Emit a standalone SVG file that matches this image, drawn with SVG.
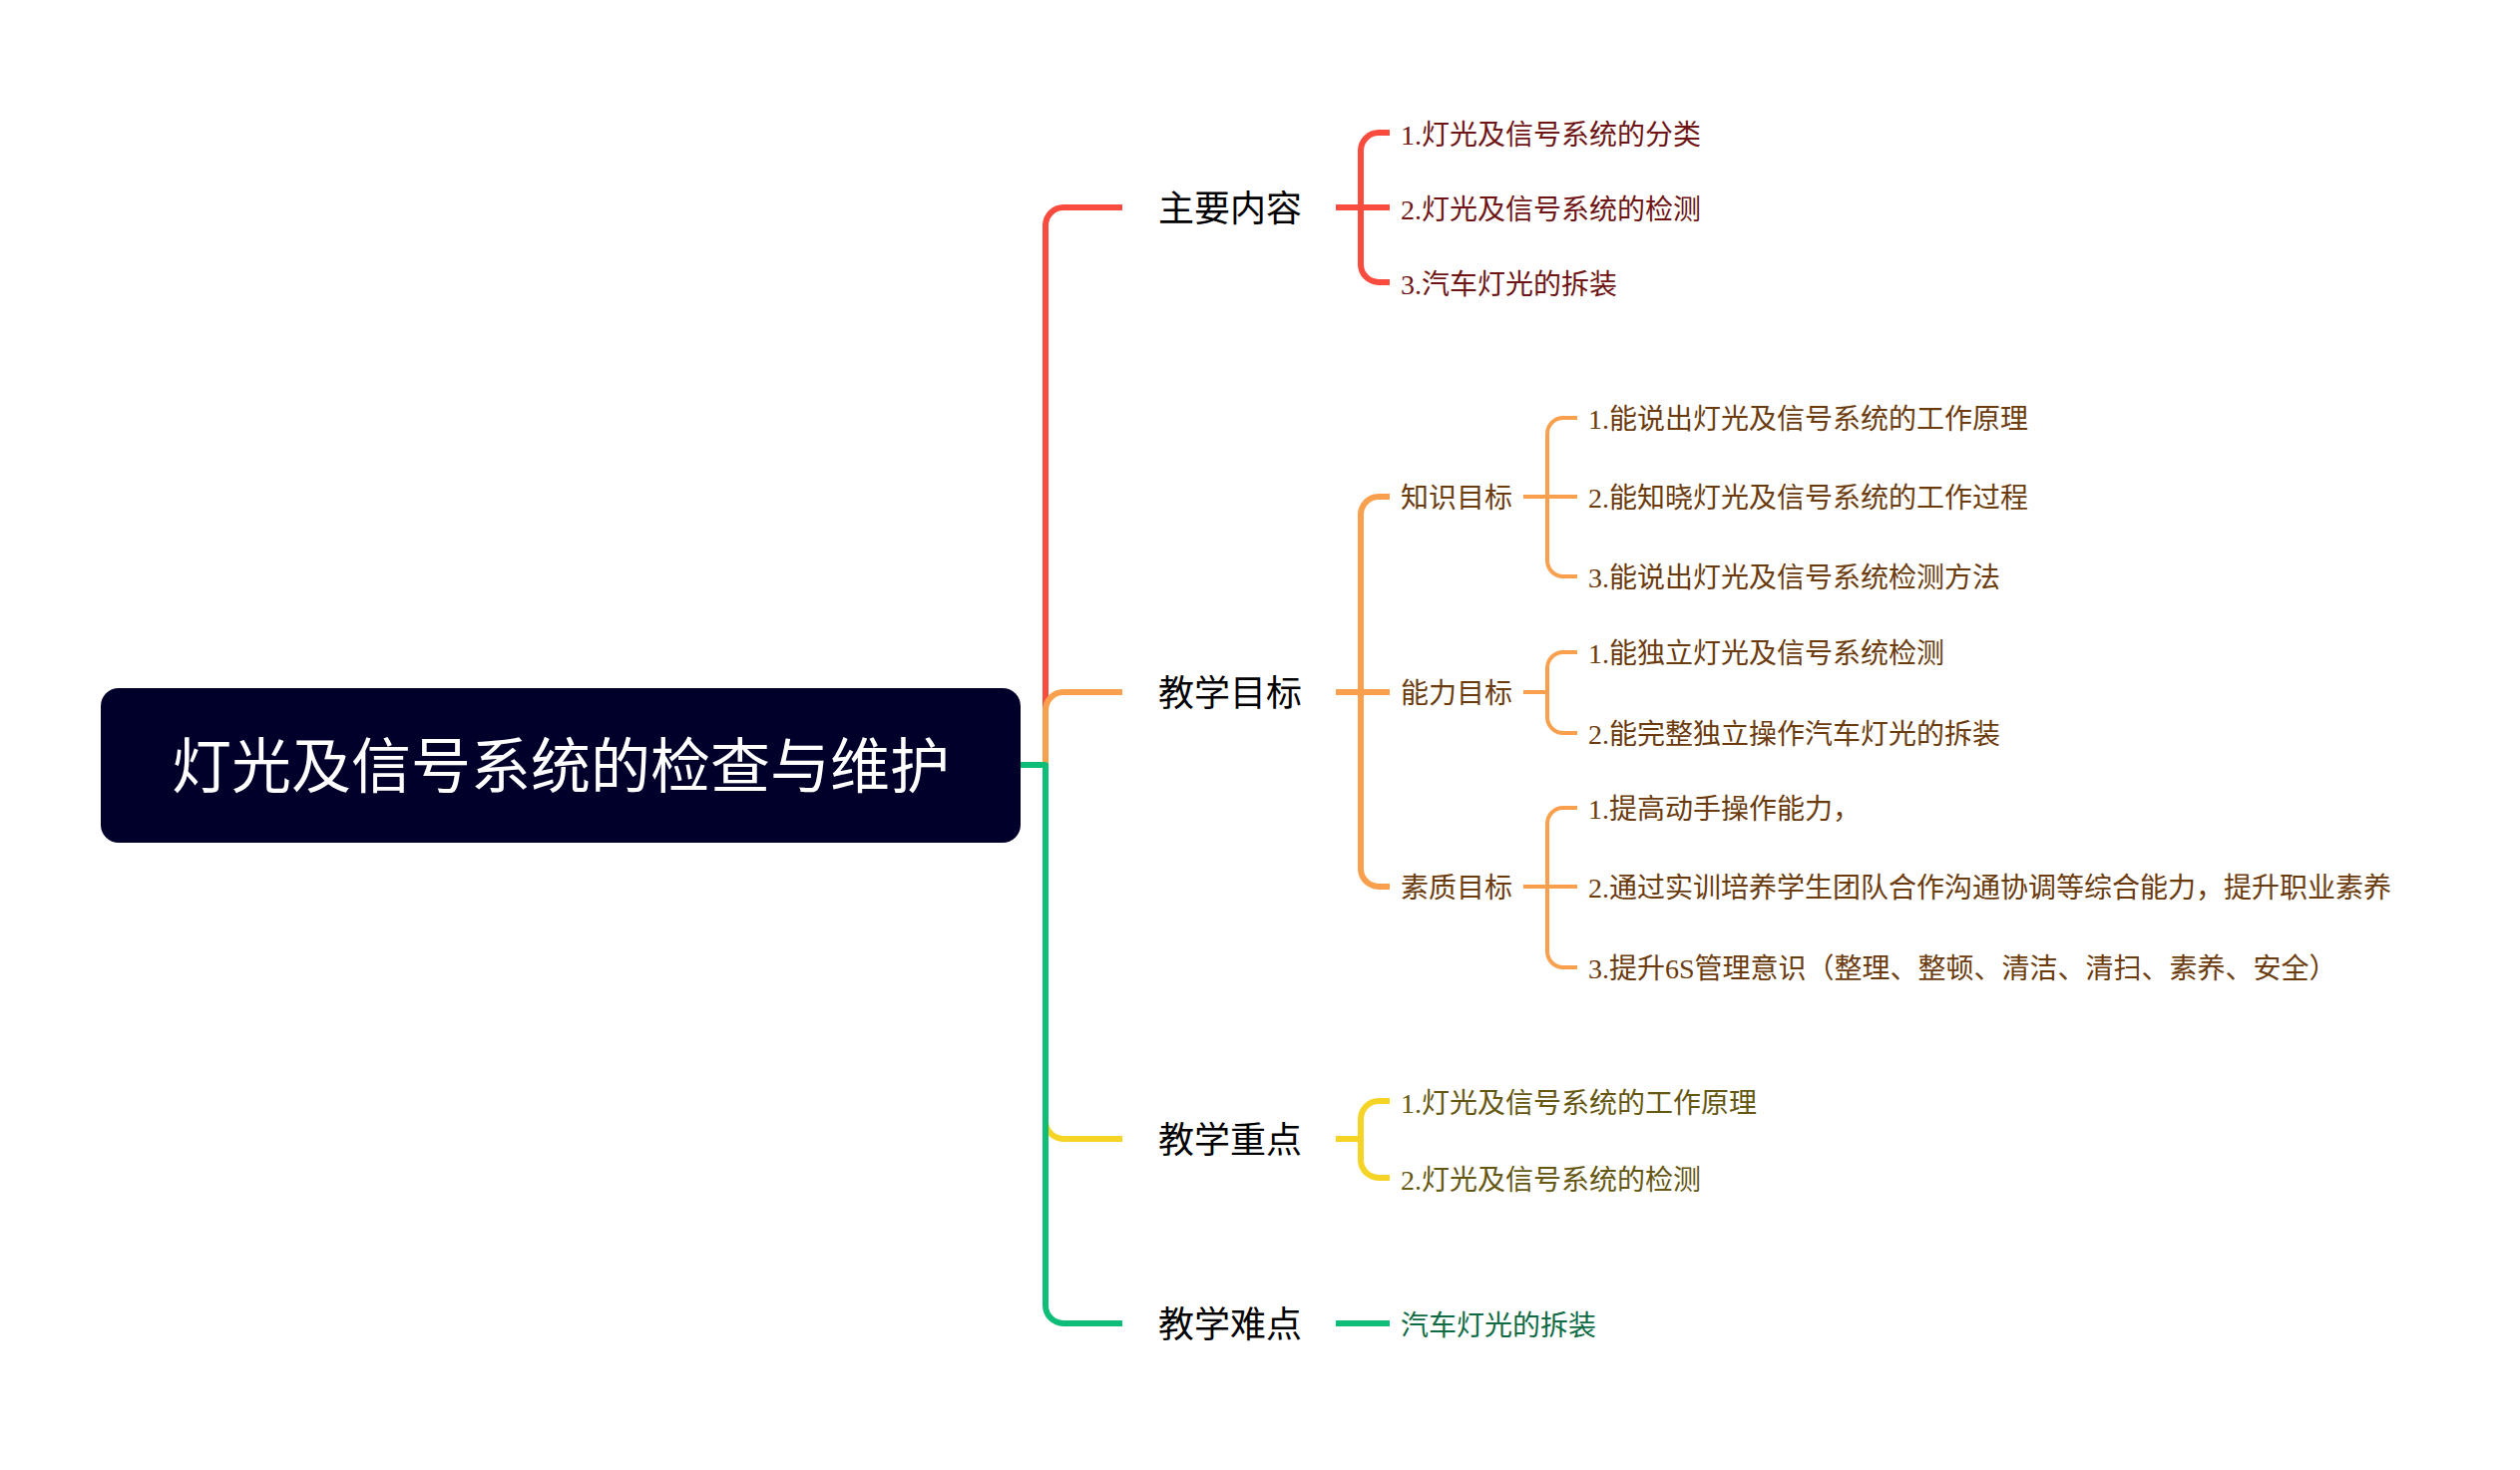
<svg xmlns="http://www.w3.org/2000/svg" width="2526" height="1474" viewBox="0 0 2526 1474">
<style>
.ln{fill:none;stroke-linecap:butt;stroke-linejoin:round}
.r{stroke:#FA4B3F}.o{stroke:#F8A04D}.y{stroke:#F5D425}.g{stroke:#0EBE78}
.w6{stroke-width:6}.w4{stroke-width:4}
.l1{font-family:"Noto Sans CJK SC","Noto Sans",sans-serif;font-size:36px;fill:#000}
.t{font-family:"Liberation Serif","Noto Sans CJK SC",serif;font-size:28px}
.l2{font-family:"Noto Sans CJK SC","Noto Sans",sans-serif;font-size:28px;fill:#6B3B0D}
.cr{fill:#6E1414}.co{fill:#6B3B0D}.cy{fill:#655610}.cg{fill:#0E6B43}
</style>
<rect width="2526" height="1474" fill="#FFFFFF"/>
<g id="connectors">
<path class="ln r w6" d="M1023 767 H1048 V226 A18 18 0 0 1 1066 208 H1125"/>
<path class="ln o w6" d="M1048 767 V712 A18 18 0 0 1 1066 694 H1125"/>
<path class="ln y w6" d="M1048 767 V1124 A18 18 0 0 0 1066 1142 H1125"/>
<path class="ln g w6" d="M1023 767 H1048 V1309 A18 18 0 0 0 1066 1327 H1125"/>
<path class="ln r w6" d="M1339 208 H1393 M1393 133 H1382 A18 18 0 0 0 1364 151 V265 A18 18 0 0 0 1382 283 H1393"/>
<path class="ln o w6" d="M1339 694 H1393 M1393 498 H1382 A18 18 0 0 0 1364 516 V871 A18 18 0 0 0 1382 889 H1393"/>
<path class="ln y w6" d="M1339 1142 H1364 M1393 1104 H1382 A18 18 0 0 0 1364 1122 V1163 A18 18 0 0 0 1382 1181 H1393"/>
<path class="ln g w6" d="M1339 1327 H1393"/>
<path class="ln o w4" d="M1527 498 H1581 M1581 419 H1567 A16 16 0 0 0 1551 435 V562 A16 16 0 0 0 1567 578 H1581"/>
<path class="ln o w4" d="M1527 694 H1551 M1581 654 H1567 A16 16 0 0 0 1551 670 V719 A16 16 0 0 0 1567 735 H1581"/>
<path class="ln o w4" d="M1527 889 H1581 M1581 810 H1567 A16 16 0 0 0 1551 826 V954 A16 16 0 0 0 1567 970 H1581"/>
</g>
<g id="root">
<rect x="101" y="690" width="922" height="155" rx="18" fill="#00002A"/>
<text x="562" y="790" text-anchor="middle" font-family="'Noto Sans CJK SC','Noto Sans',sans-serif" font-size="60" fill="#FFFFFF">灯光及信号系统的检查与维护</text>
</g>
<g id="n-main"><text class="l1" x="1161" y="222">主要内容</text></g>
<g id="n-main-1"><text class="t cr" x="1404" y="145">1.灯光及信号系统的分类</text></g>
<g id="n-main-2"><text class="t cr" x="1404" y="220">2.灯光及信号系统的检测</text></g>
<g id="n-main-3"><text class="t cr" x="1404" y="295">3.汽车灯光的拆装</text></g>
<g id="n-goal"><text class="l1" x="1161" y="708">教学目标</text></g>
<g id="n-know"><text class="l2" x="1404" y="509">知识目标</text></g>
<g id="n-know-1"><text class="t co" x="1592" y="430">1.能说出灯光及信号系统的工作原理</text></g>
<g id="n-know-2"><text class="t co" x="1592" y="509">2.能知晓灯光及信号系统的工作过程</text></g>
<g id="n-know-3"><text class="t co" x="1592" y="589">3.能说出灯光及信号系统检测方法</text></g>
<g id="n-abil"><text class="l2" x="1404" y="705">能力目标</text></g>
<g id="n-abil-1"><text class="t co" x="1592" y="665">1.能独立灯光及信号系统检测</text></g>
<g id="n-abil-2"><text class="t co" x="1592" y="746">2.能完整独立操作汽车灯光的拆装</text></g>
<g id="n-qual"><text class="l2" x="1404" y="900">素质目标</text></g>
<g id="n-qual-1"><text class="t co" x="1592" y="821">1.提高动手操作能力，</text></g>
<g id="n-qual-2"><text class="t co" x="1592" y="900">2.通过实训培养学生团队合作沟通协调等综合能力，提升职业素养</text></g>
<g id="n-qual-3"><text class="t co" x="1592" y="981">3.提升6S管理意识（整理、整顿、清洁、清扫、素养、安全）</text></g>
<g id="n-key"><text class="l1" x="1161" y="1156">教学重点</text></g>
<g id="n-key-1"><text class="t cy" x="1404" y="1116">1.灯光及信号系统的工作原理</text></g>
<g id="n-key-2"><text class="t cy" x="1404" y="1193">2.灯光及信号系统的检测</text></g>
<g id="n-hard"><text class="l1" x="1161" y="1341">教学难点</text></g>
<g id="n-hard-1"><text class="t cg" x="1404" y="1339">汽车灯光的拆装</text></g>
</svg>
